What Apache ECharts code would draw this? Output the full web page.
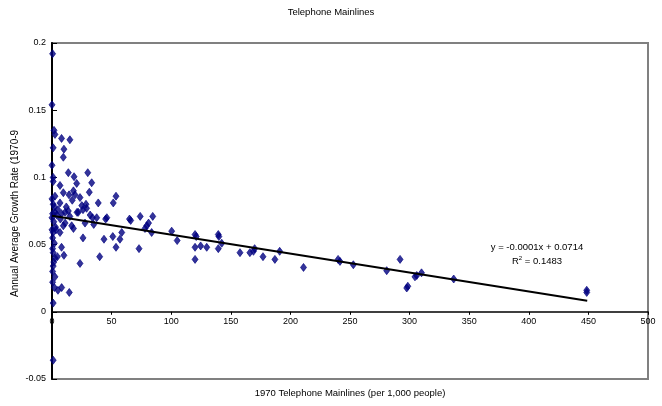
<!DOCTYPE html>
<html><head><meta charset="utf-8">
<script src="https://cdn.jsdelivr.net/npm/echarts@6/dist/echarts.min.js"></script>
<style>html,body{margin:0;padding:0;background:#fff}#c{width:662px;height:406px}</style>
</head><body><div id="c"></div>
<script>
const titleText = "Telephone Mainlines";
const xAxisName = "1970 Telephone Mainlines (per 1,000 people)";
const yAxisName = "Annual Average Growth Rate (1970-9";
const mainlinesX = [
0.5,0,1.7,2.5,1,0,1,1,2.5,1,0.5,2.5,0,1,2,0.5,1,2.5,1,0.5,2.5,2,1,1,0,1.5,0.5,1.5,0.5,3,2,0,
8,15,10,9.5,13.7,30,18.5,33.3,20.7,6.7,31.3,18,9.5,53.7,14.3,19.3,23.5,6.7,51.4,38.8,25,28.5,26,11,13.7,21,5,8,4,15,22,32,34,37.5,46,35,27.7,11,16.5,18,9.5,6.7,3.4,45,26,43.6,51,57,58.5,53.7,8,10,4.5,23.5,40,5,8.1,14.5,7,12,17,29,
65,66,74,79.5,81,78,83.6,84.5,73,100.4,105,120,120,120,121,124.7,129.8,139.5,140,139.5,142.4,157.7,166,169,170,177,187,191,211,240,241.6,252.8,280.8,292,297.6,298.5,304.5,306,310,337,448.6,448.6
];
const growthY = [
0.192,0.154,0.135,0.132,0.122,0.109,0.100,0.097,0.086,0.080,0.073,0.074,0.061,0.059,0.051,0.047,0.044,0.040,0.034,0.030,0.026,0.018,0.0065,-0.036,0.084,0.067,0.055,0.037,0.022,0.063,0.078,0.070,
0.129,0.128,0.121,0.115,0.1035,0.1035,0.1005,0.096,0.0955,0.094,0.089,0.090,0.0886,0.086,0.087,0.087,0.085,0.081,0.081,0.081,0.079,0.080,0.076,0.074,0.075,0.074,0.076,0.073,0.072,0.071,0.074,0.072,0.070,0.070,0.070,0.065,0.066,0.066,0.064,0.062,0.064,0.059,0.061,0.069,0.055,0.054,0.056,0.054,0.059,0.048,0.048,0.042,0.041,0.036,0.041,0.016,0.018,0.0144,0.069,0.078,0.083,0.077,
0.069,0.068,0.071,0.064,0.066,0.062,0.059,0.071,0.047,0.060,0.053,0.0575,0.048,0.039,0.056,0.049,0.048,0.0575,0.056,0.047,0.051,0.044,0.044,0.045,0.047,0.041,0.039,0.045,0.033,0.039,0.0375,0.035,0.0306,0.039,0.0177,0.019,0.026,0.027,0.029,0.0244,0.0144,0.016
];
const trendX = [0, 449];
const trendY = [0.0714, 0.0083];
const equationText = "y = -0.0001x + 0.0714";
const r2Value = "0.1483";
const xTicks = {min: 0, max: 500, interval: 50};
const yTicks = {min: -0.05, max: 0.2, interval: 0.05};

const pts = mainlinesX.map((x, i) => [x, growthY[i]]);
const trend = trendX.map((x, i) => [x, trendY[i]]);
const font = "Arial, 'Liberation Sans', sans-serif";
const gridTop = 43, gridBottom = 27, H = 406;
const chart = echarts.init(document.getElementById('c'), null, {renderer: 'canvas'});
// offset of the x axis so that it sits on y = 0 (computed from the axis range)
const plotH = H - gridTop - gridBottom;
const zeroOffset = -plotH * (0 - yTicks.min) / (yTicks.max - yTicks.min);
chart.setOption({
  animation: false,
  backgroundColor: '#fff',
  graphic: [
    {type: 'text', x: 331, y: 12, style: {text: titleText, font: '9.5px ' + font, fill: '#000', align: 'center', verticalAlign: 'middle'}},
    {type: 'text', x: 350, y: 393, style: {text: xAxisName, font: '9.5px ' + font, fill: '#000', align: 'center', verticalAlign: 'middle'}},
    {type: 'text', x: 15, y: 297, rotation: Math.PI / 2, style: {text: yAxisName, font: '10px ' + font, fill: '#000', align: 'left', verticalAlign: 'middle'}},
    {type: 'text', x: 537, y: 247, style: {text: equationText, font: '9.5px ' + font, fill: '#000', align: 'center', verticalAlign: 'middle'}},
    {type: 'text', x: 537, y: 261, style: {text: '{a|R}{s|2}{a| = ' + r2Value + '}', align: 'center', verticalAlign: 'middle',
      rich: {a: {fontFamily: font, fontSize: 9.5, fill: '#000'}, s: {fontFamily: font, fontSize: 6, fill: '#000', verticalAlign: 'top', padding: [0,0,6,0]}}}}
  ],
  grid: {left: 52, right: 14, top: gridTop, bottom: gridBottom, show: true, borderColor: '#808080', borderWidth: 2, backgroundColor: 'transparent'},
  xAxis: {type: 'value', min: xTicks.min, max: xTicks.max, interval: xTicks.interval,
    offset: zeroOffset,
    axisLine: {onZero: false, lineStyle: {color: '#000', width: 1.5}},
    axisTick: {show: true, inside: false, length: 3, lineStyle: {color: '#000'}},
    axisLabel: {fontFamily: font, fontSize: 9, color: '#000', margin: 5},
    splitLine: {show: false}},
  yAxis: {type: 'value', min: yTicks.min, max: yTicks.max, interval: yTicks.interval,
    axisLine: {show: true, onZero: false, lineStyle: {color: '#000', width: 2}},
    axisTick: {show: true, inside: true, length: 5, lineStyle: {color: '#000'}},
    axisLabel: {fontFamily: font, fontSize: 9, color: '#000', margin: 6,
      formatter: v => (Math.round(v * 100) / 100).toString()},
    splitLine: {show: false}},
  series: [
    {type: 'scatter', data: pts, symbol: 'diamond', symbolSize: [6, 8],
      itemStyle: {color: '#000080', borderColor: '#000080', borderWidth: 0.8}, z: 3},
    {type: 'line', data: trend, symbol: 'none', lineStyle: {color: '#000', width: 2}, z: 4}
  ]
});
</script></body></html>
